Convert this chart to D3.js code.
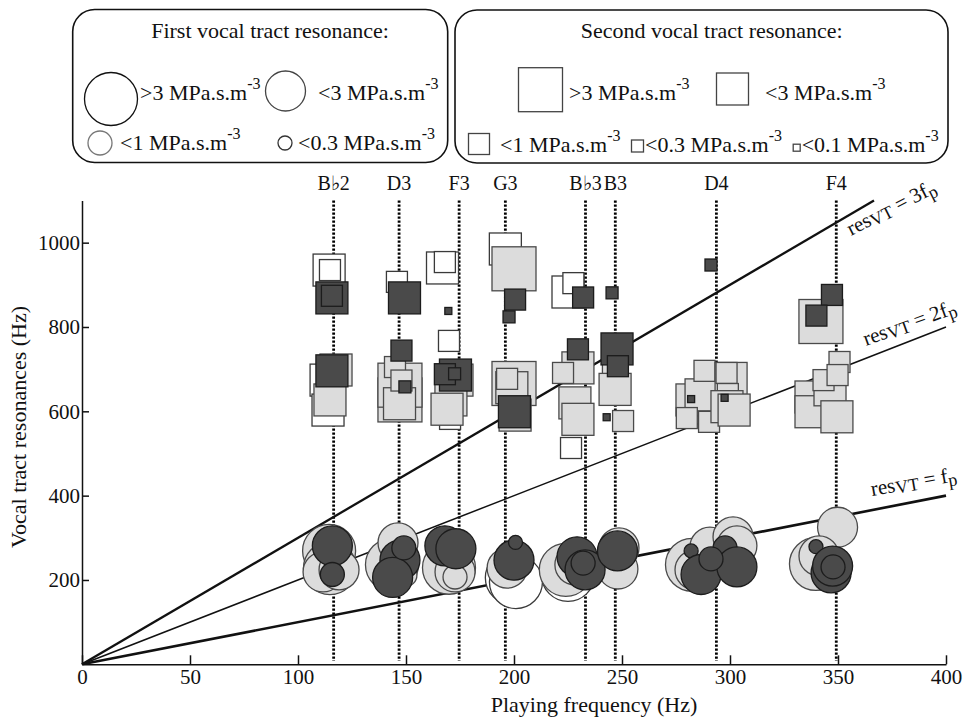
<!DOCTYPE html>
<html>
<head>
<meta charset="utf-8">
<script src="https://cdn.jsdelivr.net/npm/d3@7"></script>
<style>
  body { margin: 0; background: #fff; }
  svg text { font-family: "Liberation Serif", "Times New Roman", serif; fill: #111; }
</style>
</head>
<body>
<svg id="chart" width="966" height="719"></svg>
<script>
// Vocal tract resonances against playing frequency, sized by impedance peak

// notes played (label, fundamental in Hz)
const noteNames = ["B\u266d2", "D3", "F3", "G3", "B\u266d3", "B3", "D4", "F4"];
const noteFreqs = [116.5, 146.8, 174.6, 196.0, 233.1, 246.9, 293.7, 349.2];

const xTicks = [0, 50, 100, 150, 200, 250, 300, 350, 400];
const yTicks = [200, 400, 600, 800, 1000];

// harmonic ratios drawn as resVT = n fp
const ratios = [1, 2, 3];
const ratioLabels = ["f", "2f", "3f"];

// impedance classes (MPa.s.m-3), a value inside each class
const circleClassLabels = [">3", "<3", "<1", "<0.3"];
const circleClassValues = [4, 2, 0.6, 0.2];
const squareClassLabels = [">3", "<3", "<1", "<0.3", "<0.1"];
const squareClassValues = [4, 2, 0.6, 0.2, 0.05];

// first resonance: [playing freq Hz, resonance Hz, impedance, group]
// group 0 = white, 1 = light, 2 = dark
const firstResonance = [
  [114.4, 269, 4, 1], [114.8, 228, 4, 1], [111.6, 219, 2, 1], [119.0, 224, 2, 1],
  [115.9, 281, 2, 2], [115.9, 213, 0.6, 2],
  [143.5, 236, 4, 1], [146.3, 288, 2, 1], [149.5, 212, 0.6, 1],
  [147.2, 247, 2, 2], [143.8, 206, 2, 2], [149.0, 276, 0.6, 2],
  [169.9, 229, 4, 1], [172.7, 219, 2, 1], [172.7, 207, 0.6, 1],
  [168.0, 281, 2, 2], [173.1, 274, 2, 2],
  [199.0, 205, 4, 0], [200.9, 195, 4, 0], [196.8, 228, 2, 1],
  [200.0, 247, 2, 2], [200.7, 289, 0.2, 2],
  [225.0, 212, 4, 0], [224.0, 224, 4, 1], [228.2, 236, 2, 1],
  [229.2, 255, 2, 2], [232.9, 224, 2, 2], [232.0, 240, 0.6, 2],
  [248.1, 226, 2, 1], [248.6, 276, 2, 1], [247.9, 269, 2, 2],
  [282.4, 236, 4, 1], [283.8, 224, 2, 1], [290.7, 278, 2, 1], [301.4, 302, 2, 1],
  [303.2, 281, 2, 1], [282.0, 269, 0.2, 2], [297.7, 276, 0.6, 2], [286.6, 213, 2, 2],
  [303.2, 231, 2, 2], [291.2, 250, 0.6, 2],
  [349.8, 325, 2, 1], [339.8, 238, 4, 1], [341.2, 257, 2, 1],
  [339.8, 279, 0.2, 2], [346.8, 217, 2, 2], [347.5, 233, 2, 2], [347.7, 231, 0.6, 2]
];

// second resonance: same columns
const secondResonance = [
  [114.4, 935, 2, 0], [114.8, 935, 0.6, 0], [113.0, 674, 2, 0], [113.9, 603, 2, 0],
  [114.8, 627, 2, 1], [117.6, 698, 2, 1],
  [115.7, 869, 2, 2], [115.7, 874, 0.6, 2], [115.7, 696, 2, 2],
  [145.8, 907, 0.6, 0],
  [147.2, 627, 4, 1], [147.2, 662, 4, 1], [147.0, 618, 2, 1], [144.9, 705, 0.6, 1],
  [147.9, 673, 0.6, 1],
  [149.3, 869, 2, 2], [147.9, 744, 0.6, 2], [149.5, 658, 0.2, 2],
  [166.9, 940, 2, 0], [168.0, 954, 0.6, 0], [169.9, 767, 0.6, 0], [170.4, 582, 0.6, 0],
  [173.6, 674, 2, 1], [170.8, 627, 2, 1], [169.0, 605, 2, 1],
  [172.9, 686, 2, 2], [168.0, 688, 0.6, 2], [172.5, 689, 0.2, 2], [169.6, 838, 0.05, 2],
  [196.0, 985, 2, 0],
  [200.0, 938, 4, 1], [200.0, 666, 4, 1], [199.0, 656, 2, 1], [196.8, 677, 0.6, 1],
  [200.5, 591, 2, 1],
  [200.5, 865, 0.6, 2], [197.7, 824, 0.2, 2], [200.2, 599, 2, 2],
  [225.0, 883, 2, 0], [227.5, 904, 0.6, 0], [226.4, 513, 0.6, 0],
  [229.6, 703, 2, 1], [222.7, 691, 0.6, 1], [228.2, 620, 2, 1], [229.6, 581, 2, 1],
  [232.0, 870, 0.6, 2], [229.6, 747, 0.6, 2],
  [245.8, 691, 0.6, 1], [246.8, 652, 2, 1], [250.5, 577, 0.6, 1],
  [245.4, 881, 0.2, 2], [247.7, 748, 2, 2], [248.1, 707, 0.6, 2], [242.9, 586, 0.05, 2],
  [282.4, 627, 2, 1], [286.6, 639, 2, 1], [280.0, 584, 0.6, 1], [290.3, 575, 0.6, 1],
  [288.2, 696, 0.6, 1], [300.5, 678, 2, 1], [298.4, 691, 0.6, 1], [299.0, 641, 0.6, 1],
  [298.6, 611, 2, 1], [301.9, 603, 2, 1],
  [291.2, 947, 0.2, 2], [282.0, 629, 0.05, 2], [297.5, 632, 0.05, 2],
  [342.1, 813, 4, 1], [337.5, 634, 2, 1], [337.5, 599, 2, 1], [346.3, 651, 2, 1],
  [349.5, 587, 2, 1], [350.7, 717, 0.6, 1], [343.3, 674, 0.6, 1], [349.8, 686, 0.6, 1],
  [347.2, 876, 0.6, 2], [340.0, 827, 0.6, 2]
];

const svg = d3.select("#chart");

const x = d3.scaleLinear().domain([0, 400]).range([82, 946]);
const y = d3.scaleLinear().domain([0, 1100]).range([664.3, 200.5]);

// marker size classes
const squareSide = d3.scaleThreshold().domain([0.1, 0.3, 1, 3]).range([7, 12, 21, 32, 44]);
const circleDiam = d3.scaleThreshold().domain([0.3, 1, 3]).range([14, 24, 40, 53]);

const fill = d3.scaleOrdinal().domain([0, 1, 2]).range(["#ffffff", "#dcdcdc", "#4a4a4a"]);
const edge = d3.scaleOrdinal().domain([0, 1, 2]).range(["#3a3a3a", "#4a4a4a", "#1c1c1c"]);

// draw in group order, keeping the listed order inside a group
function byGroup(rows) {
  return rows.map((d, i) => ({d, i}))
    .sort((a, b) => a.d[3] - b.d[3] || a.i - b.i)
    .map(o => o.d);
}

// dotted note lines
svg.append("g")
  .selectAll("line")
  .data(noteFreqs)
  .join("line")
  .attr("x1", d => x(d)).attr("x2", d => x(d))
  .attr("y1", y(1100)).attr("y2", y(8))
  .attr("stroke", "#000")
  .attr("stroke-width", 2.8)
  .attr("stroke-dasharray", "2.2,1.8");

svg.append("g")
  .selectAll("text")
  .data(noteNames)
  .join("text")
  .attr("x", (d, i) => x(noteFreqs[i]))
  .attr("y", 190)
  .attr("text-anchor", "middle")
  .attr("font-size", 20)
  .text(d => d);

// resVT = n fp lines
const ratioWidth = {1: 2.6, 2: 1.5, 3: 2.3};
svg.append("g")
  .selectAll("line")
  .data(ratios)
  .join("line")
  .attr("x1", x(0)).attr("y1", y(0))
  .attr("x2", d => x(Math.min(400, 1100 / d)))
  .attr("y2", d => y(Math.min(400, 1100 / d) * d))
  .attr("stroke", "#111")
  .attr("stroke-width", d => ratioWidth[d]);

// second resonance squares
svg.append("g")
  .selectAll("rect")
  .data(byGroup(secondResonance))
  .join("rect")
  .attr("x", d => x(d[0]) - squareSide(d[2]) / 2)
  .attr("y", d => y(d[1]) - squareSide(d[2]) / 2)
  .attr("width", d => squareSide(d[2]))
  .attr("height", d => squareSide(d[2]))
  .attr("fill", d => fill(d[3]))
  .attr("stroke", d => edge(d[3]))
  .attr("stroke-width", 1.3);

// first resonance circles
svg.append("g")
  .selectAll("circle")
  .data(byGroup(firstResonance))
  .join("circle")
  .attr("cx", d => x(d[0]))
  .attr("cy", d => y(d[1]))
  .attr("r", d => circleDiam(d[2]) / 2)
  .attr("fill", d => fill(d[3]))
  .attr("stroke", d => edge(d[3]))
  .attr("stroke-width", 1.3);

// axes
const xAxis = d3.axisBottom(x).tickValues(xTicks).tickFormat(d3.format("d"))
  .tickSizeInner(-9).tickSizeOuter(0).tickPadding(5);
const yAxis = d3.axisLeft(y).tickValues(yTicks).tickFormat(d3.format("d"))
  .tickSizeInner(-7).tickSizeOuter(0).tickPadding(2);

const gx = svg.append("g").attr("transform", "translate(0," + y(0) + ")").call(xAxis);
const gy = svg.append("g").attr("transform", "translate(" + x(0) + ",0)").call(yAxis);

[gx, gy].forEach(g => {
  g.attr("font-family", null).attr("font-size", null);
  g.selectAll("path, line").attr("stroke", "#111").attr("stroke-width", 1.5);
  g.selectAll("text").attr("font-size", 21).attr("fill", "#111");
});

svg.append("text")
  .attr("x", 594).attr("y", 712)
  .attr("text-anchor", "middle")
  .attr("font-size", 22)
  .text("Playing frequency (Hz)");

svg.append("text")
  .attr("transform", "translate(26," + 427 + ") rotate(-90)")
  .attr("text-anchor", "middle")
  .attr("font-size", 22)
  .text("Vocal tract resonances (Hz)");

// ratio line labels
const ratioLabelPos = [[872, 496, -10], [866, 346, -20], [851, 236, -27]];
ratios.forEach((r, i) => {
  const p = ratioLabelPos[i];
  const t = svg.append("text")
    .attr("transform", "translate(" + p[0] + "," + p[1] + ") rotate(" + p[2] + ")")
    .attr("font-size", 21);
  t.append("tspan").text("res");
  t.append("tspan").attr("font-size", 18).attr("dy", 2).text("VT");
  t.append("tspan").attr("dy", -2).text(" = " + ratioLabels[i]);
  t.append("tspan").attr("font-size", 18).attr("dy", 4).text("p");
});

// legends
function unitText(g, px, py, label) {
  const t = g.append("text").attr("x", px).attr("y", py).attr("font-size", 22);
  t.append("tspan").text(label + " MPa.s.m");
  t.append("tspan").attr("font-size", 16).attr("dy", -11).text("-3");
}

const legend = svg.append("g");

legend.append("rect")
  .attr("x", 72.7).attr("y", 9.5).attr("width", 375).attr("height", 153)
  .attr("rx", 22).attr("fill", "none").attr("stroke", "#111").attr("stroke-width", 1.6);
legend.append("text")
  .attr("x", 270).attr("y", 38).attr("text-anchor", "middle").attr("font-size", 22)
  .text("First vocal tract resonance:");

const circleSpots = [[111, 99, 140, 100], [285.5, 91, 318, 100], [100, 143, 120, 150], [285, 143, 298, 150]];
const circleEdges = ["#111", "#444", "#777", "#333"];
circleClassValues.forEach((v, i) => {
  const s = circleSpots[i];
  legend.append("circle")
    .attr("cx", s[0]).attr("cy", s[1]).attr("r", circleDiam(v) / 2)
    .attr("fill", "#fff").attr("stroke", circleEdges[i]).attr("stroke-width", 1.3);
  unitText(legend, s[2], s[3], circleClassLabels[i]);
});

legend.append("rect")
  .attr("x", 455).attr("y", 10).attr("width", 493).attr("height", 153)
  .attr("rx", 22).attr("fill", "none").attr("stroke", "#111").attr("stroke-width", 1.6);
legend.append("text")
  .attr("x", 711.7).attr("y", 38).attr("text-anchor", "middle").attr("font-size", 22)
  .text("Second vocal tract resonance:");

const squareSpots = [[540.5, 89.7, 569, 100], [732.5, 89, 765, 100], [479, 144, 500, 151.7],
  [637.5, 146, 645, 151.7], [796.7, 147.7, 801.7, 151.7]];
squareClassValues.forEach((v, i) => {
  const s = squareSpots[i];
  const side = squareSide(v);
  legend.append("rect")
    .attr("x", s[0] - side / 2).attr("y", s[1] - side / 2)
    .attr("width", side).attr("height", side)
    .attr("fill", "#fff").attr("stroke", "#444").attr("stroke-width", 1.3);
  unitText(legend, s[2], s[3], squareClassLabels[i]);
});
</script>
</body>
</html>
